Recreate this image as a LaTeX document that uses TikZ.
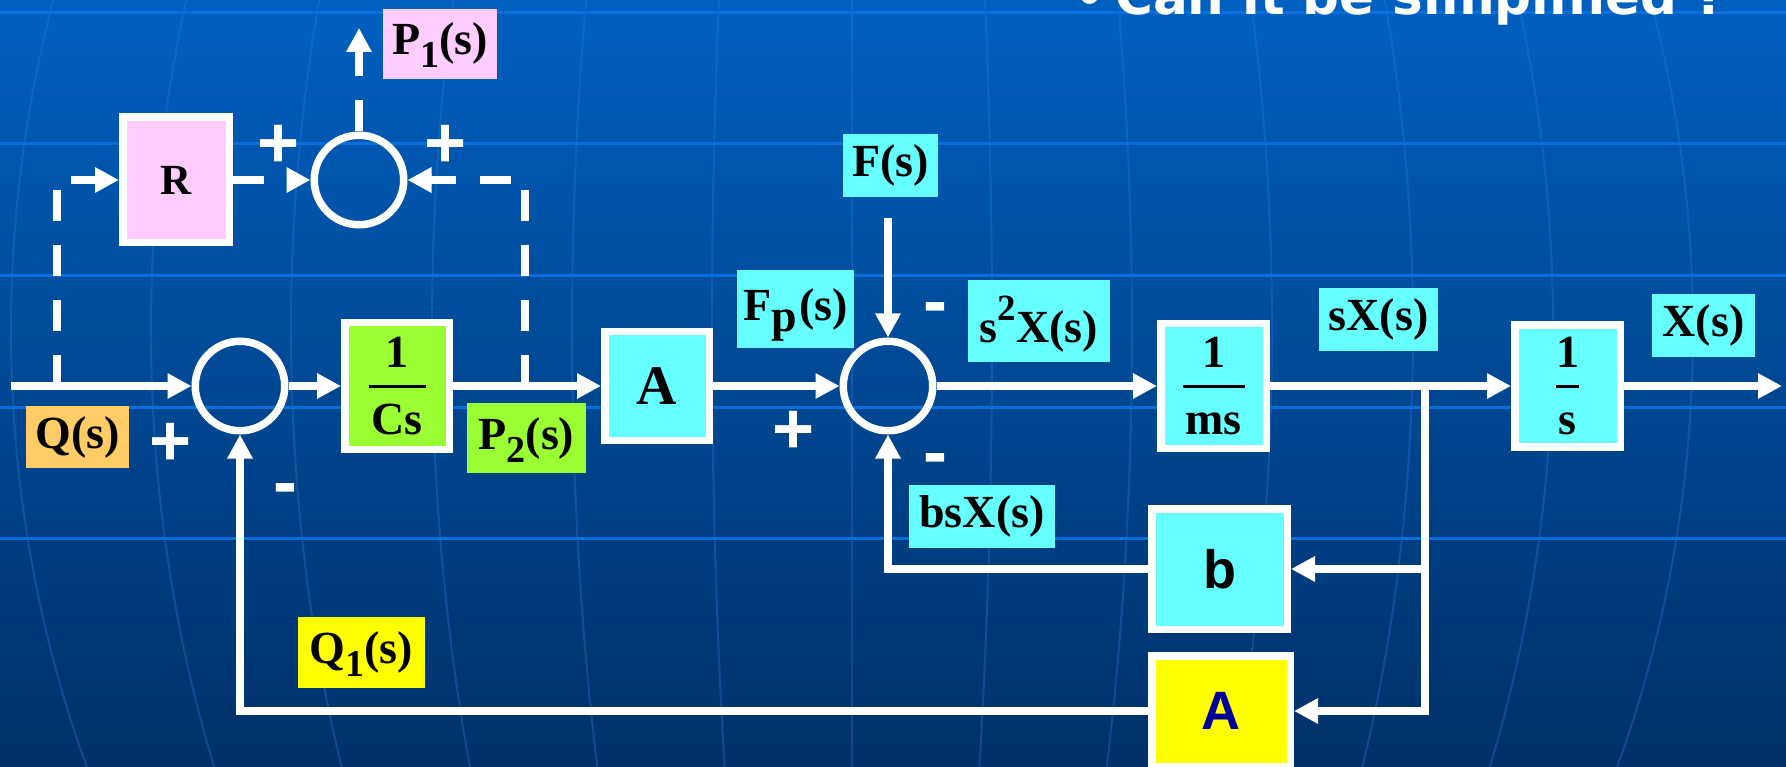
\documentclass[tikz,border=0pt]{standalone}
\usepackage{fontspec}
\setmainfont{Liberation Serif}
\newfontfamily\lsans{Liberation Sans}
\newfontfamily\dejab{DejaVu Sans}
\usetikzlibrary{arrows.meta}

\definecolor{pinkc}{HTML}{FFCCFF}
\definecolor{greenc}{HTML}{99FF33}
\definecolor{cyanc}{HTML}{66FFFF}
\definecolor{orangec}{HTML}{FFCC66}
\definecolor{yellowc}{HTML}{FFFF00}
\definecolor{dblue}{HTML}{000099}
\definecolor{bgtop}{RGB}{0,96,192}
\definecolor{bgbot}{RGB}{0,48,104}
\definecolor{gridc}{RGB}{10,110,220}
\definecolor{meridc}{RGB}{40,120,220}

\newcommand\blkfrac[3]{\vbox{\offinterlineskip\halign{\hfil##\hfil\cr\vphantom{1}#1\cr\noalign{\kern17pt}\rule{#3}{3pt}\cr\noalign{\kern16pt}\vphantom{C}#2\cr}}}
\newcommand\lsub[1]{\raisebox{-13pt}{\fontsize{38}{40}\selectfont #1}}
\newcommand\lsup[1]{\raisebox{22pt}{\fontsize{37}{40}\selectfont #1}}

\tikzset{
  wire/.style={draw=white, line width=7.5pt},
  arr/.style={wire, -{Triangle[length=24pt,width=24pt]}},
  dwire/.style={wire, dash pattern=on 31pt off 24pt},
  sum/.style={circle, draw=white, line width=7.5pt, minimum size=89.5pt, inner sep=0pt},
  blk/.style={draw=white, line width=7.5pt, inner sep=0pt, text=black},
  lab/.style={inner sep=0pt, text height=32pt, text depth=10pt, text=black,
              font=\fontsize{46}{50}\selectfont\bfseries},
  sgn/.style={inner sep=0pt, text=white, font=\lsans\fontsize{72}{76}\selectfont\bfseries},
  gridline/.style={draw=gridc, line width=3pt},
  merid/.style={draw=meridc, line width=2pt, opacity=0.35},
}

\begin{document}
\begin{tikzpicture}[x=1pt, y=-1pt]
\useasboundingbox (0,0) rectangle (1786,767);
\clip (0,0) rectangle (1786,767);
\shade[top color=bgtop, bottom color=bgbot] (0,0) rectangle (1786,767);

% globe background
\foreach \d in {-841,-701,-561,-420,-280,-140,0,140,280,420,561,701,841}
  \draw[merid] plot[domain=0:767, samples=30, smooth] ({852+\d*sqrt(1-((\x-330)/1053)^2)}, \x);
\foreach \yy in {13,144,276,407,538}
  \draw[gridline] (0,\yy) -- (1786,\yy);

% title
\node[anchor=base, text=white, inner sep=0pt, font=\dejab\bfseries\fontsize{51.6}{55}\selectfont] (bullet) at (1090,15) {•};
\node[anchor=base west, text=white, inner sep=0pt, font=\dejab\bfseries\fontsize{51.6}{55}\selectfont] (title) at (1115,15) {Can it be simplified ?};

% summing junctions
\node[sum] (s1) at (240,386) {};
\node[sum] (s2) at (888,386) {};
\node[sum] (s3) at (359,180) {};

% blocks
\node[blk, fill=pinkc, minimum width=106.5pt, minimum height=125.5pt,
      font=\fontsize{43}{46}\selectfont\bfseries] (R) at (176,180) {R};
\node[blk, fill=greenc, minimum width=104.5pt, minimum height=126.5pt,
      font=\fontsize{46}{50}\selectfont\bfseries] (Cs) at (397,386) {\blkfrac{1}{Cs}{57pt}};
\node[blk, fill=cyanc, minimum width=104.5pt, minimum height=108.5pt,
      font=\fontsize{56}{60}\selectfont\bfseries] (A1) at (657,386) {A};
\node[blk, fill=cyanc, minimum width=105.5pt, minimum height=124.5pt,
      font=\fontsize{46}{50}\selectfont\bfseries] (ms) at (1213.5,386) {\blkfrac{1}{ms}{62pt}};
\node[blk, fill=cyanc, minimum width=105.5pt, minimum height=121.5pt,
      font=\fontsize{46}{50}\selectfont\bfseries] (sI) at (1567.5,386) {\blkfrac{1}{s}{23pt}};
\node[blk, fill=cyanc, minimum width=135.5pt, minimum height=120.5pt,
      font=\lsans\fontsize{54}{58}\selectfont\bfseries] (b) at (1219.5,569) {b};
\node[blk, fill=yellowc, minimum width=138.5pt, minimum height=110.5pt, text=dblue,
      font=\lsans\fontsize{54}{58}\selectfont\bfseries] (A2) at (1221,711) {A};

% signal labels
\node[lab, fill=pinkc, minimum width=114pt, minimum height=70pt] (P1) at (440,44) {P\lsub{1}(s)};
\node[lab, fill=orangec, minimum width=103pt, minimum height=62pt] (Q) at (77.5,437) {Q(s)};
\node[lab, fill=greenc, minimum width=119pt, minimum height=70pt] (P2) at (526.5,438) {P\lsub{2}(s)};
\node[lab, fill=yellowc, minimum width=127pt, minimum height=71pt] (Q1) at (361.5,652.5) {Q\lsub{1}(s)};
\node[lab, fill=cyanc, minimum width=95pt, minimum height=63pt] (F) at (890.5,165.5) {F(s)};
\node[lab, fill=cyanc, minimum width=117pt, minimum height=78pt] (Fp) at (795.5,309) {F\raisebox{-11pt}{p}\kern2pt(s)};
\node[lab, fill=cyanc, minimum width=142pt, minimum height=82pt, text height=46pt, text depth=4pt] (s2X) at (1039,321) {s\lsup{2}X(s)};
\node[lab, fill=cyanc, minimum width=119pt, minimum height=63pt] (sX) at (1378.5,319.5) {sX(s)};
\node[lab, fill=cyanc, minimum width=103pt, minimum height=63pt] (X) at (1703.5,325.5) {X(s)};
\node[lab, fill=cyanc, minimum width=146pt, minimum height=63pt] (bsX) at (982,516.5) {bsX(s)};

% signs
\node[sgn] (pa) at (279,146) {+};
\node[sgn] (pb) at (446,146) {+};
\node[sgn] (pc) at (171,444) {+};
\node[sgn] (pd) at (794,432) {+};
\node[sgn] (ma) at (285,495) {-};
\node[sgn] (mb) at (935,314) {-};
\node[sgn] (mc) at (935,465) {-};

% free ends and branch points
\coordinate (qin) at (11,386);
\coordinate (fin) at (888,218);
\coordinate (xout) at (1782,386);
\coordinate (br1) at (1425,386);
\coordinate (br2) at (1425,569);
\coordinate (d1) at (57,386);
\coordinate (d2) at (525,386);
\coordinate (p1out) at (359,28);

% solid connectors
\draw[arr] (qin) -- (s1.west);
\draw[arr] (s1.east) -- (Cs.west);
\draw[arr] (Cs.east) -- (A1.west);
\draw[arr] (A1.east) -- (s2.west);
\draw[arr] (fin) -- (s2.north);
\draw[arr] (s2.east) -- (ms.west);
\draw[arr] (ms.east) -- (sI.west);
\draw[arr] (sI.east) -- (xout);
\draw[arr] (br1) |- (A2.east);
\draw[arr] (br2) -- (b.east);
\draw[arr] (b.west) -| (s2.south);
\draw[arr] (A2.west) -| (s1.south);

% dashed connectors
\draw[dwire, -{Triangle[length=24pt,width=24pt]}] (d1) |- (R.west);
\draw[dwire, -{Triangle[length=24pt,width=24pt]}] (R.east) -- (s3.west);
\draw[dwire, -{Triangle[length=24pt,width=24pt]}] (d2) |- (s3.east);
\draw[dwire, -{Triangle[length=24pt,width=24pt]}] (s3.north) -- (p1out);
\end{tikzpicture}
\end{document}
